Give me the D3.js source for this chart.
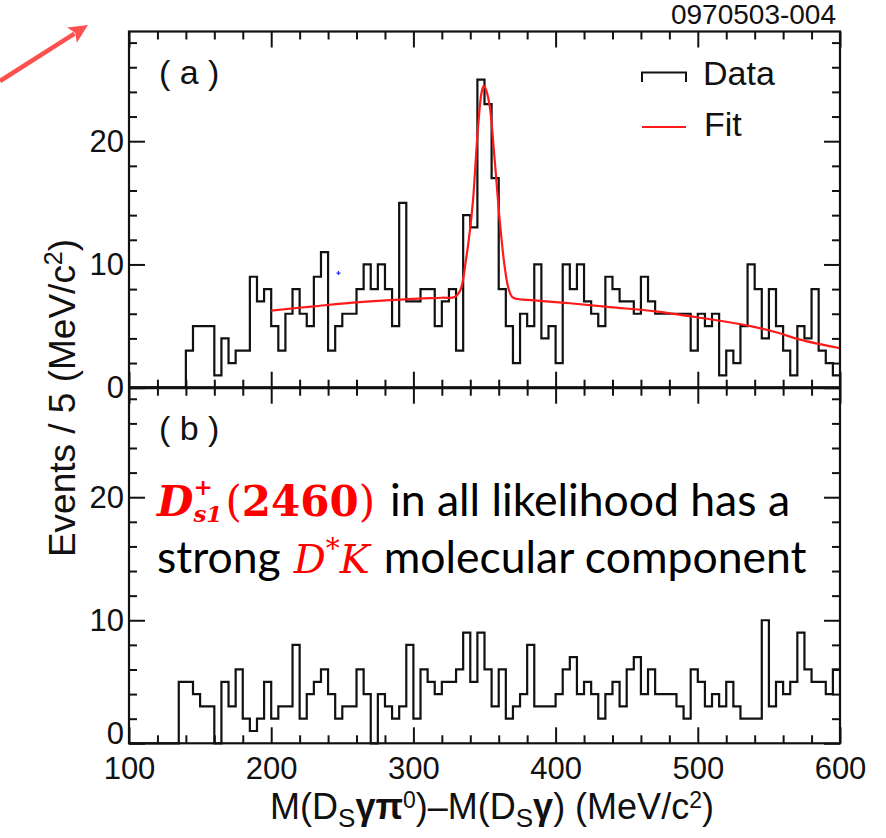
<!DOCTYPE html>
<html>
<head>
<meta charset="utf-8">
<script src="https://cdn.jsdelivr.net/npm/d3@7"></script>
<style>
  html, body { margin: 0; padding: 0; background: #fff; }
  svg { display: block; }
  .axis text { font-family: "Liberation Sans", Arial, sans-serif; fill: #111; }
  .axis line { stroke: #111; stroke-width: 2; }
  .axis path { display: none; }
</style>
</head>
<body>
<svg id="chart" width="886" height="838"></svg>
<script>
// Low edges of the 5 MeV/c^2 bins, 100 to 600 MeV/c^2
const binEdges = d3.range(100, 600, 5);

// (a) entries per bin
const countsA = [0,0,0,0,0,0,0,0,3,5, 5,5,1,4,2,3,3,9,7,8,
                 5,3,6,8,6,5,9,11,3,5, 6,6,8,10,8,10,8,5,15,7,
                 7,8,8,5,7,8,3,14,13,25, 23,17,8,5,2,6,5,10,4,5,
                 2,10,8,10,7,6,5,9,8,7, 7,6,9,7,6,6,6,6,6,3,
                 6,5,6,1,3,2,5,10,8,4, 8,5,3,1,5,4,8,3,2,1];

// (b) entries per bin
const countsB = [0,0,0,0,0,0,0,5,5,4, 3,3,0,5,3,6,2,1,2,5,
                 2,3,3,8,2,4,5,6,4,2, 3,3,6,4,0,4,3,2,3,8,
                 2,6,5,4,5,5,6,9,5,9, 6,3,6,2,3,4,8,3,3,3,
                 4,6,7,4,5,4,2,4,5,3, 6,7,4,6,4,4,4,3,2,6,
                 5,3,4,3,5,3,2,2,2,10, 3,5,4,5,9,6,5,5,4,6];

// Fit curve for (a): mass difference (MeV/c^2) and events per bin
const fitMass   = [200, 230, 262, 297, 320, 329, 333, 337, 340, 342, 345.5, 348, 349.5, 351, 353.7,
                   357, 360.7, 364.2, 367, 370, 380, 389, 410, 438, 470, 494, 520, 537, 555, 572, 600];
const fitEvents = [6.26, 6.6, 6.94, 7.19, 7.3, 7.35, 7.9, 10.4, 13, 15.3, 21.2, 24, 24.5, 24.2, 22.8,
                   18.7, 13.6, 9.8, 8.0, 7.3, 7.13, 7.05, 6.85, 6.54, 6.2, 5.8, 5.35, 5.0, 4.5, 3.9, 3.2];

// Stray point in (a)
const strayMass = [247.3];
const strayEvents = [9.3];

const xMajorTicks = [100, 200, 300, 400, 500, 600];
const xMinorTicks = [120, 140, 160, 180, 220, 240, 260, 280, 320, 340, 360, 380,
                     420, 440, 460, 480, 520, 540, 560, 580];
const yMajorTicks = [0, 10, 20];
const yMinorTicks = [2, 4, 6, 8, 12, 14, 16, 18, 22, 24, 26, 28];

const svg = d3.select("#chart");
const left = 129, right = 840;
const topA = 31.5, mid = 387.7, bottomB = 743.3;
const yMax = 28.9;

const x = d3.scaleLinear().domain([100, 600]).range([left, right]);
const yA = d3.scaleLinear().domain([0, yMax]).range([mid, topA]);
const yB = d3.scaleLinear().domain([0, yMax]).range([bottomB, mid]);

const MAJ = 16, MIN = 8;

function xTicksAt(yPos, orient, withLabels) {
  // ticks point into the panel
  const mk = orient === "bottom" ? d3.axisBottom : d3.axisTop;
  svg.append("g").attr("class", "axis").attr("transform", `translate(0,${yPos})`)
    .call(mk(x).tickValues(xMinorTicks).tickSize(-MIN).tickFormat(""));
  const gMaj = svg.append("g").attr("class", "axis").attr("transform", `translate(0,${yPos})`)
    .call(mk(x).tickValues(xMajorTicks).tickSize(-MAJ).tickPadding(14)
      .tickFormat(withLabels ? d3.format("d") : ""));
  gMaj.selectAll("text").style("font-size", "31px");
}

function yTicksFor(y, withLabels) {
  svg.append("g").attr("class", "axis").attr("transform", `translate(${left},0)`)
    .call(d3.axisLeft(y).tickValues(yMinorTicks).tickSize(-MIN).tickFormat(""));
  const g = svg.append("g").attr("class", "axis").attr("transform", `translate(${left},0)`)
    .call(d3.axisLeft(y).tickValues(yMajorTicks).tickSize(-MAJ).tickPadding(5)
      .tickFormat(withLabels ? d3.format("d") : ""));
  g.selectAll("text").style("font-size", "31px");
  svg.append("g").attr("class", "axis").attr("transform", `translate(${right},0)`)
    .call(d3.axisRight(y).tickValues(yMinorTicks).tickSize(-MIN).tickFormat(""));
  svg.append("g").attr("class", "axis").attr("transform", `translate(${right},0)`)
    .call(d3.axisRight(y).tickValues(yMajorTicks).tickSize(-MAJ).tickFormat(""));
  return g;
}

// ticks on every panel edge
xTicksAt(topA, "top", false);
xTicksAt(mid, "bottom", false);
xTicksAt(mid, "top", false);
xTicksAt(bottomB, "bottom", true);
yTicksFor(yA, true);
const gB = yTicksFor(yB, true);
// lift the lower panel's zero label clear of the x labels
gB.selectAll(".tick").filter(d => d === 0).select("text").attr("dy", "0.02em");

// histograms
function histPath(counts, y) {
  const pts = binEdges.map((e, i) => [e, counts[i]]);
  pts.push([600, counts[counts.length - 1]]);
  return d3.line().x(d => x(d[0])).y(d => y(d[1])).curve(d3.curveStepAfter)(pts);
}
svg.append("path").attr("d", histPath(countsA, yA))
  .attr("fill", "none").attr("stroke", "#111").attr("stroke-width", 2.2);
svg.append("path").attr("d", histPath(countsB, yB))
  .attr("fill", "none").attr("stroke", "#111").attr("stroke-width", 2.2);

// fit
svg.append("path")
  .attr("d", d3.line().x((d, i) => x(fitMass[i])).y(d => yA(d)).curve(d3.curveCatmullRom.alpha(0.5))(fitEvents))
  .attr("fill", "none").attr("stroke", "#ff1a1a").attr("stroke-width", 2.2);

// stray marker
strayMass.forEach((m, i) => {
  const cx = x(m), cy = yA(strayEvents[i]);
  svg.append("path").attr("d", `M${cx - 2},${cy}H${cx + 2}M${cx},${cy - 2}V${cy + 2}`)
    .attr("stroke", "#2233ff").attr("stroke-width", 1.3);
});

// frame
svg.append("rect").attr("x", left).attr("y", topA).attr("width", right - left).attr("height", bottomB - topA)
  .attr("fill", "none").attr("stroke", "#111").attr("stroke-width", 2.2);
svg.append("line").attr("x1", left).attr("x2", right).attr("y1", mid).attr("y2", mid)
  .attr("stroke", "#111").attr("stroke-width", 2.2);
// heavier zero line of (a)
svg.append("line").attr("x1", left).attr("x2", right).attr("y1", yA(0)).attr("y2", yA(0))
  .attr("stroke", "#111").attr("stroke-width", 3);

const sans = "'Liberation Sans', Arial, sans-serif";

// panel tags
svg.append("text").attr("x", 159).attr("y", 84).attr("font-family", sans).attr("font-size", 34)
  .attr("fill", "#111").style("white-space", "pre").text("( a )");
svg.append("text").attr("x", 159).attr("y", 440).attr("font-family", sans).attr("font-size", 34)
  .attr("fill", "#111").style("white-space", "pre").text("( b )");

// legend
svg.append("path").attr("d", "M642,82V72.5H686V82").attr("fill", "none").attr("stroke", "#111").attr("stroke-width", 2);
svg.append("text").attr("x", 703).attr("y", 85).attr("font-family", sans).attr("font-size", 34).attr("fill", "#111").text("Data");
svg.append("line").attr("x1", 642).attr("x2", 686).attr("y1", 127).attr("y2", 127).attr("stroke", "#ff1a1a").attr("stroke-width", 2.2);
svg.append("text").attr("x", 704).attr("y", 136).attr("font-family", sans).attr("font-size", 34).attr("fill", "#111").text("Fit");

// figure code
svg.append("text").attr("x", 836).attr("y", 24).attr("text-anchor", "end").attr("font-family", sans)
  .attr("font-size", 28).attr("fill", "#111").text("0970503-004");

// axis titles
const xt = svg.append("text").attr("x", 492).attr("y", 819).attr("text-anchor", "middle")
  .attr("font-family", sans).attr("font-size", 36).attr("fill", "#111");
xt.append("tspan").text("M(D");
xt.append("tspan").attr("dy", 8).attr("font-size", 26).text("S");
xt.append("tspan").attr("dy", -8).attr("font-weight", "bold").text("γπ");
xt.append("tspan").attr("dy", -11).attr("font-size", 23).text("0");
xt.append("tspan").attr("dy", 11).text(")–M(D");
xt.append("tspan").attr("dy", 8).attr("font-size", 26).text("S");
xt.append("tspan").attr("dy", -8).attr("font-weight", "bold").text("γ");
xt.append("tspan").text(") (MeV/c");
xt.append("tspan").attr("dy", -11).attr("font-size", 23).text("2");
xt.append("tspan").attr("dy", 11).text(")");

const yt = svg.append("text").attr("transform", "translate(75,398) rotate(-90)").attr("text-anchor", "middle")
  .attr("font-family", sans).attr("font-size", 37).attr("fill", "#111");
yt.append("tspan").text("Events / 5 (MeV/c");
yt.append("tspan").attr("dy", -13).attr("font-size", 25).text("2");
yt.append("tspan").attr("dy", 13).text(")");

// annotation
const serif = "'DejaVu Serif', 'Liberation Serif', serif";
const body = "Lato, 'Open Sans', sans-serif";
const red = "#ff0000";

// line 1: D_{s1}^{+}(2460), with the sub- and superscript stacked
const sym = svg.append("text").attr("x", 157).attr("y", 516).attr("font-family", serif)
  .attr("font-size", 42).attr("fill", red).attr("font-weight", "bold");
sym.append("tspan").attr("font-style", "italic").text("D");
const sup = sym.append("tspan").attr("dy", -21).attr("font-size", 23).text("+");
const sub = sym.append("tspan").attr("dy", 27).attr("font-size", 23).attr("font-style", "italic").text("s1");
const rest = sym.append("tspan").attr("dy", -6);
rest.append("tspan").attr("font-weight", "normal").text("(");
rest.append("tspan").text("2460");
rest.append("tspan").attr("font-weight", "normal").text(")");
(function () {
  const n = sym.node();
  const supX = n.getStartPositionOfChar(1).x;
  sub.attr("x", supX);
  const supEnd = n.getEndPositionOfChar(1).x;
  const subEnd = n.getEndPositionOfChar(3).x;
  rest.attr("x", Math.max(supEnd, subEnd) + 3);
  const end = n.getEndPositionOfChar(n.getNumberOfChars() - 1).x;
  svg.append("text").attr("x", end + 15).attr("y", 516).attr("font-family", body)
    .attr("font-size", 44.5).attr("fill", "#000").text("in all likelihood has a");
})();

// line 2: strong D*K molecular component
const l2 = svg.append("text").attr("x", 157).attr("y", 573).attr("font-family", body)
  .attr("font-size", 44.5).attr("fill", "#000");
l2.append("tspan").text("strong");
const dk = l2.append("tspan").attr("dx", 13).attr("font-family", serif).attr("font-size", 40)
  .attr("fill", red).attr("font-style", "italic");
dk.append("tspan").text("D");
dk.append("tspan").attr("dy", -15).attr("font-size", 28).text("*");
dk.append("tspan").attr("dy", 15).text("K");
l2.append("tspan").attr("dx", 14).text("molecular component");

// pointer arrow
(function () {
  const x0 = 0, y0 = 81, x1 = 88, y1 = 25;
  const len = Math.hypot(x1 - x0, y1 - y0), ux = (x1 - x0) / len, uy = (y1 - y0) / len;
  const hl = 19, hw = 9, bx = x1 - ux * hl, by = y1 - uy * hl;
  svg.append("line").attr("x1", x0).attr("y1", y0).attr("x2", bx + ux * 3).attr("y2", by + uy * 3)
    .attr("stroke", "#ff5050").attr("stroke-width", 4.5);
  svg.append("path")
    .attr("d", `M${x1},${y1}L${bx - uy * hw},${by + ux * hw}L${bx + ux * 4},${by + uy * 4}L${bx + uy * hw},${by - ux * hw}Z`)
    .attr("fill", "#ff5050");
})();
</script>
</body>
</html>
